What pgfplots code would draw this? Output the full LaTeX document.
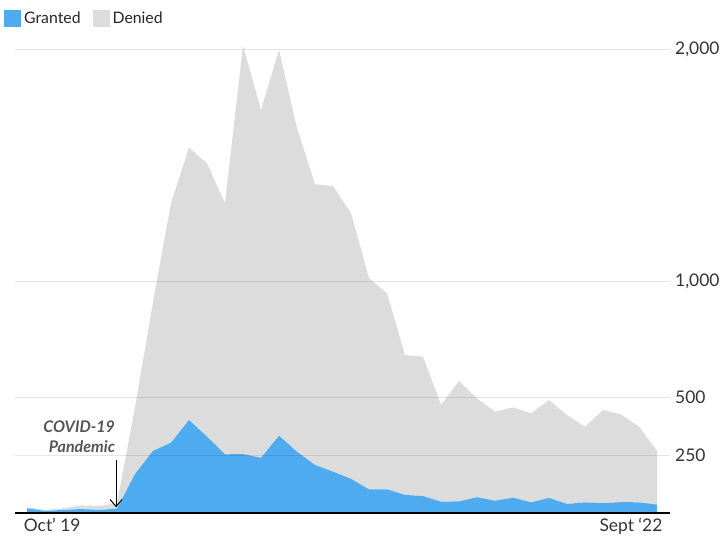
\documentclass[border=0pt]{standalone}
\usepackage{pgfplots}
\pgfplotsset{compat=1.18}
\usepackage{pgfplotstable}
\usepackage{fontspec}
\setmainfont{Lato}
\usetikzlibrary{arrows.meta}
\definecolor{granted}{RGB}{78,171,239}
\definecolor{denied}{RGB}{220,220,220}
\definecolor{txt}{RGB}{51,51,51}
\definecolor{ann}{RGB}{85,85,85}

\pgfplotstableread{
idx granted denied
0 20 5
1 9 4
2 13 7
3 17 16
4 13 17
5 19 23
6 168 287
7 268 642
8 303 1033
9 401 1174
10 329 1178
11 253 1082
12 254 1760
13 238 1499
14 333 1663
15 264 1394
16 207 1210
17 178 1231
18 147 1145
19 102 910
20 102 845
21 78 603
22 73 601
23 49 417
24 50 519
25 68 426
26 53 384
27 66 389
28 46 384
29 65 422
30 39 383
31 46 326
32 42 402
33 47 378
34 46 326
35 36 233
}\datatable

\begin{document}
\begin{tikzpicture}
\useasboundingbox (0,0) rectangle (723pt,539pt);
\begin{axis}[
  at={(15pt,26pt)}, anchor=south west,
  scale only axis,
  width=655pt, height=477.9pt,
  xmin=-0.667, xmax=35.72,
  ymin=0, ymax=2060,
  stack plots=y,
  axis on top,
  axis x line*=bottom,
  axis y line*=right,
  y axis line style={draw=none},
  x axis line style={black, line width=1.3pt},
  major tick length=0pt,
  ytick={250,500,1000,2000},
  yticklabels={250,500,{1,000},{2,000}},
  yticklabel style={anchor=west, inner sep=0pt, xshift=5pt, text=txt, font=\fontsize{17.4}{20}\selectfont},
  xtick={1.4,33.55},
  xticklabels={Oct’ 19, Sept ‘22},
  xticklabel style={anchor=north, inner sep=0pt, yshift=-5pt, text=txt, font=\fontsize{17.4}{20}\selectfont},
  ymajorgrids=true,
  grid style={black, opacity=0.1, line width=1pt},
  legend columns=2,
  legend cell align=left,
  legend style={at={(axis description cs:-0.0168,1.056)}, anchor=north west, draw=none, fill=none, inner sep=0pt,
    font=\fontsize{15.8}{18}\selectfont, text=black!85,
    /tikz/every even column/.append style={column sep=9pt},
    nodes={inner sep=3pt}},
  legend image code/.code={\fill[#1] (0pt,-8.5pt) rectangle (17pt,8.5pt);},
]
\addplot[fill=granted, draw=none] table[x=idx, y=granted] {\datatable} \closedcycle;
\addlegendentry{Granted}
\addplot[fill=denied, draw=none] table[x=idx, y=denied] {\datatable} \closedcycle;
\addlegendentry{Denied}
\node[anchor=east, align=right, inner sep=0pt, text=ann, font=\fontsize{16}{20}\selectfont\bfseries\itshape] at (axis cs:4.9,329) {COVID-19\\Pandemic};
\coordinate (arrA) at (axis cs:4.95,228);
\coordinate (arrB) at (axis cs:4.95,28);
\end{axis}
\draw[black, line width=1pt] (arrA) -- (arrB);
\draw[black, line width=1pt, line join=miter] ([shift={(-6pt,7pt)}]arrB) -- (arrB) -- ([shift={(6pt,7pt)}]arrB);
\end{tikzpicture}
\end{document}
